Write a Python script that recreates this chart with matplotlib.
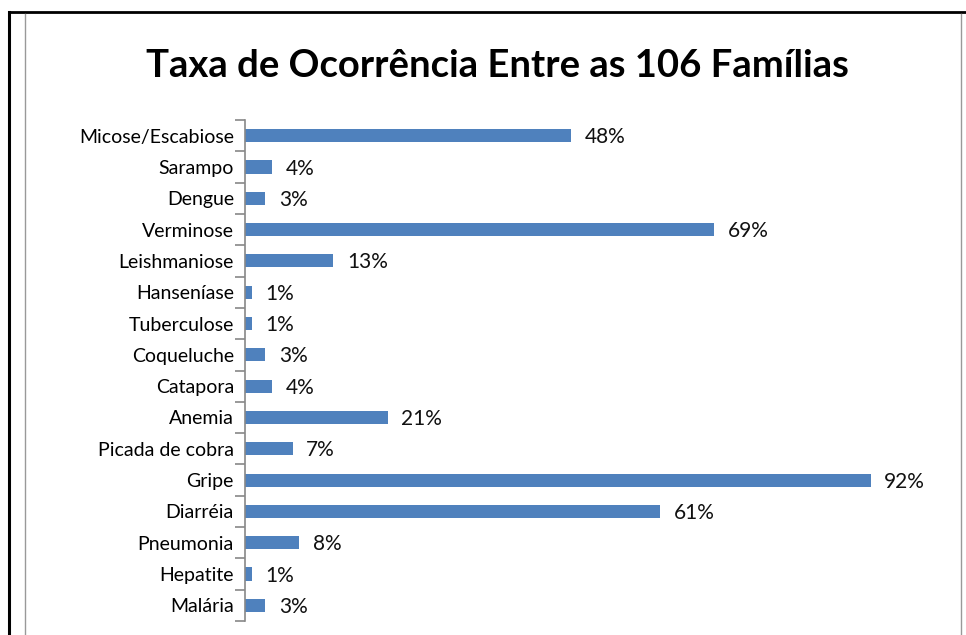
import matplotlib.pyplot as plt
from matplotlib.lines import Line2D

categories = ['Micose/Escabiose', 'Sarampo', 'Dengue', 'Verminose', 'Leishmaniose',
              'Hanseníase', 'Tuberculose', 'Coqueluche', 'Catapora', 'Anemia',
              'Picada de cobra', 'Gripe', 'Diarréia', 'Pneumonia', 'Hepatite', 'Malária']
values = [48, 4, 3, 69, 13, 1, 1, 3, 4, 21, 7, 92, 61, 8, 1, 3]

W, H = 966, 635
fig = plt.figure(figsize=(W / 100, H / 100), dpi=100)
plt.rcParams['font.family'] = ['Lato', 'DejaVu Sans']

# axes in pixel coordinates: x 245..925, y 120..621
ax = fig.add_axes([245 / W, 1 - 621 / H, 680 / W, 501 / H])
ypos = list(range(len(categories)))
ax.barh(ypos, values, height=0.42, color='#4F81BD')
ax.set_ylim(len(categories) - 0.5, -0.5)
ax.set_xlim(0, 100)

for y, v in zip(ypos, values):
    ax.text(v + 2.0, y + 0.05, f'{v}%', va='center', ha='left', fontsize=15, color='#111111')

ax.set_yticks(ypos)
ax.set_yticklabels(categories, fontsize=14)
ax.set_yticks([i - 0.5 for i in range(len(categories) + 1)], minor=True)
ax.tick_params(axis='y', which='major', length=0, pad=8)
ax.tick_params(axis='y', which='minor', length=7, color='#888888', width=1.2)
ax.set_xticks([])
for s in ['top', 'right', 'bottom']:
    ax.spines[s].set_visible(False)
ax.spines['left'].set_color('#888888')
ax.spines['left'].set_linewidth(1.2)

fig.text(497 / W, 1 - 66 / H, 'Taxa de Ocorrência Entre as 106 Famílias',
         ha='center', va='center', fontsize=27.5, fontweight='bold')

# frame lines
def px_line(x0, y0, x1, y1, color, lw):
    fig.add_artist(Line2D([x0 / W, x1 / W], [1 - y0 / H, 1 - y1 / H],
                          transform=fig.transFigure, color=color, linewidth=lw))

px_line(9, 12, W, 12, 'black', 2)
px_line(9, 12, 9, H, 'black', 2.2)
px_line(25, 14, 25, H, '#999999', 1)
px_line(961, 14, 961, H, '#999999', 1)

fig.savefig('out.png', dpi=100)
